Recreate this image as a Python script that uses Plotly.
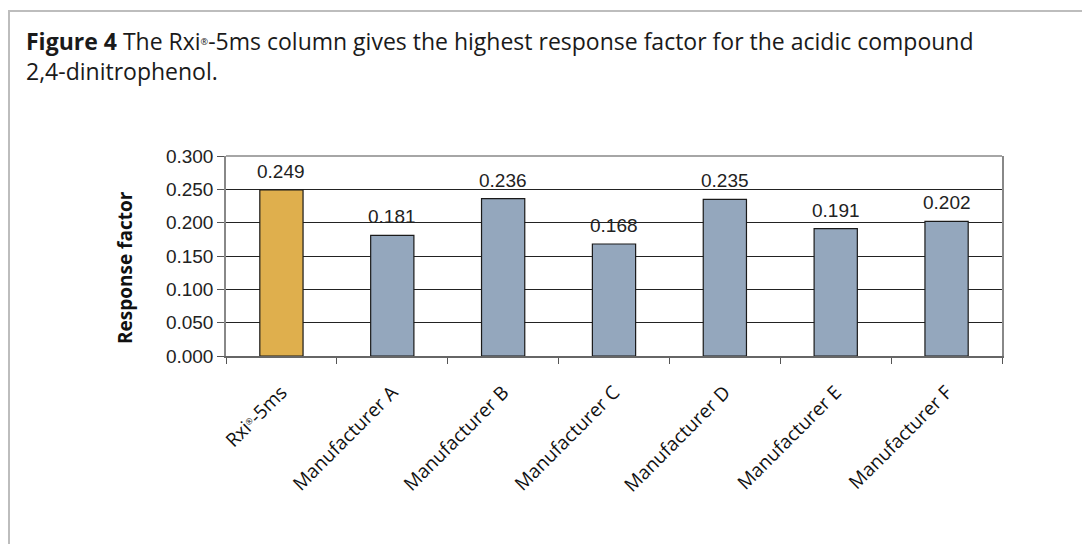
import plotly.graph_objects as go

categories = ["Rxi<span style='font-size:12px'><sup>®</sup></span>-5ms", "Manufacturer A", "Manufacturer B",
              "Manufacturer C", "Manufacturer D", "Manufacturer E", "Manufacturer F"]
values = [0.249, 0.181, 0.236, 0.168, 0.235, 0.191, 0.202]
bar_colors = ["#DFAF4D", "#94A7BD", "#94A7BD", "#94A7BD", "#94A7BD", "#94A7BD", "#94A7BD"]
y_ticks = [0.0, 0.05, 0.10, 0.15, 0.20, 0.25, 0.30]
y_tick_text = ["0.000", "0.050", "0.100", "0.150", "0.200", "0.250", "0.300"]

W, H = 1082, 544
L, R, T, B = 226, 80, 156, 188
pw, ph = W - L - R, H - T - B

fig = go.Figure()
fig.add_trace(go.Bar(
    x=categories, y=values,
    marker=dict(color=bar_colors, line=dict(color="#1a1a1a", width=1.2)),
    width=0.39,
    hoverinfo="skip",
))

for c, v in zip(categories, values):
    fig.add_annotation(x=c, y=v, text=f"{v:.3f}", showarrow=False,
                       yanchor="bottom", yshift=6,
                       font=dict(family="Liberation Sans Narrow, Liberation Sans, sans-serif",
                                 size=19, color="#222"))

def px2paper_x(px):
    return (px - L) / pw

def px2paper_y(py):
    return (H - B - py) / ph

# outer frame (light gray box starting at top-left)
fig.add_shape(type="rect", xref="paper", yref="paper",
              x0=px2paper_x(9), x1=px2paper_x(W + 20),
              y0=px2paper_y(H + 20), y1=px2paper_y(11),
              line=dict(color="#BDBDBD", width=2), layer="below")

title_text = ("<b>Figure 4</b> The Rxi<span style='font-size:13px'><sup>®</sup></span>-5ms column gives the highest "
              "response factor for the acidic compound<br>2,4-dinitrophenol.")
fig.add_annotation(xref="paper", yref="paper",
                   x=px2paper_x(24), y=px2paper_y(23),
                   xanchor="left", yanchor="top", align="left",
                   text=title_text, showarrow=False,
                   font=dict(family="Open Sans, sans-serif", size=23, color="#1a1a1a"))

# y-axis title
fig.add_annotation(xref="paper", yref="paper",
                   x=px2paper_x(125), y=px2paper_y(267),
                   xanchor="center", yanchor="middle", textangle=-90,
                   text="<b>Response factor</b>", showarrow=False,
                   font=dict(family="Open Sans, sans-serif", size=19, color="#111"))

fig.update_layout(
    width=W, height=H,
    margin=dict(l=L, r=R, t=T, b=B),
    paper_bgcolor="white", plot_bgcolor="white",
    showlegend=False,
    xaxis=dict(
        type="category",
        tickson="boundaries",
        ticks="outside", ticklen=6, tickcolor="#555",
        showline=True, linecolor="#666", linewidth=1.5,
        mirror=False,
        tickangle=-45,
        ticklabelstandoff=16,
        tickfont=dict(family="Open Sans, sans-serif", size=19, color="#111"),
        showgrid=False,
        range=[-0.5, 6.5],
    ),
    yaxis=dict(
        range=[0, 0.3],
        tickvals=y_ticks, ticktext=y_tick_text,
        ticks="outside", ticklen=7, tickcolor="#555",
        showline=True, linecolor="#888", linewidth=1.5,
        mirror=True,
        showgrid=True, gridcolor="#222", gridwidth=1,
        zeroline=False,
        tickfont=dict(family="Liberation Sans Narrow, Liberation Sans, sans-serif", size=19, color="#222"),
    ),
)

fig.add_shape(type="line", xref="paper", yref="paper", x0=0, x1=1, y0=1, y1=1,
              line=dict(color="#888", width=1.5))

fig.write_html("out.html")
